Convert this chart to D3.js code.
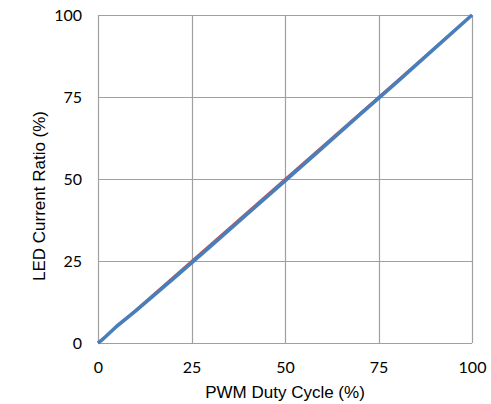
<!DOCTYPE html>
<html>
<head>
<meta charset="utf-8">
<script src="https://cdn.jsdelivr.net/npm/d3@7"></script>
<style>
  html, body { margin: 0; padding: 0; background: #fff; overflow: hidden; }
  svg { display: block; }
</style>
</head>
<body>
<div id="chart"></div>
<script>
var dutyTicks = [0, 25, 50, 75, 100],
    ratioTicks = [0, 25, 50, 75, 100],
    idealDuty = [0, 100],
    idealRatio = [0, 100],
    measuredDuty = [0, 1, 2, 5, 10, 20, 30, 40, 50, 60, 70, 80, 90, 100],
    measuredRatio = [0, 0.9, 1.9, 5.1, 9.7, 19.5, 29.4, 39.4, 49.4, 59.5, 69.6, 79.6, 89.8, 100]

var width = 491, height = 404,
    margins = { top: 15, right: 19, bottom: 61, left: 98 },
    innerWidth = width - margins.left - margins.right,
    innerHeight = height - margins.top - margins.bottom,
    tickFont = 'Lato, "Open Sans", sans-serif',
    titleFont = '"Liberation Sans", Arial, sans-serif'

var svg = d3.select('#chart').append('svg')
    .attr('width', width)
    .attr('height', height)

var graph = svg.append('g')
    .attr('transform', 'translate(' + margins.left + ',' + margins.top + ')')

var x = d3.scaleLinear().domain([0, 100]).range([0, innerWidth]),
    y = d3.scaleLinear().domain([0, 100]).range([innerHeight, 0])

// gridlines
graph.append('g')
    .selectAll('line')
    .data(dutyTicks)
    .enter().append('line')
    .attr('x1', d => Math.round(x(d)) + 0.5).attr('x2', d => Math.round(x(d)) + 0.5)
    .attr('y1', 0).attr('y2', innerHeight)
    .attr('stroke', '#a0a0a0').attr('stroke-width', 1.2)

graph.append('g')
    .selectAll('line')
    .data(ratioTicks)
    .enter().append('line')
    .attr('y1', d => Math.round(y(d)) + 0.5).attr('y2', d => Math.round(y(d)) + 0.5)
    .attr('x1', 0).attr('x2', innerWidth)
    .attr('stroke', '#a0a0a0').attr('stroke-width', 1.2)

// axes (labels only)
var xAxis = graph.append('g')
    .attr('transform', 'translate(0,' + innerHeight + ')')
    .call(d3.axisBottom(x).tickValues(dutyTicks).tickSize(0).tickPadding(19))
    .attr('font-family', tickFont)
    .attr('font-size', 16)
xAxis.select('.domain').remove()

var yAxis = graph.append('g')
    .call(d3.axisLeft(y).tickValues(ratioTicks).tickSize(0).tickPadding(16))
    .attr('font-family', tickFont)
    .attr('font-size', 16)
yAxis.select('.domain').remove()

var line = d3.line().x(d => x(d[0])).y(d => y(d[1]))

graph.append('path')
    .datum(d3.zip(idealDuty, idealRatio))
    .attr('d', line)
    .attr('fill', 'none')
    .attr('stroke', '#c0504d')
    .attr('stroke-width', 2)

graph.append('path')
    .datum(d3.zip(measuredDuty, measuredRatio))
    .attr('d', line)
    .attr('fill', 'none')
    .attr('stroke', '#4a7ebb')
    .attr('stroke-width', 3.6)
    .attr('stroke-linejoin', 'round')

// titles
svg.append('text')
    .attr('x', margins.left + innerWidth / 2)
    .attr('y', 398)
    .attr('text-anchor', 'middle')
    .attr('font-family', titleFont)
    .attr('font-size', 17)
    .text('PWM Duty Cycle (%)')

svg.append('text')
    .attr('transform', 'translate(45,' + (margins.top + innerHeight / 2 + 17) + ') rotate(-90)')
    .attr('text-anchor', 'middle')
    .attr('font-family', titleFont)
    .attr('font-size', 17)
    .text('LED Current Ratio (%)')
</script>
</body>
</html>
